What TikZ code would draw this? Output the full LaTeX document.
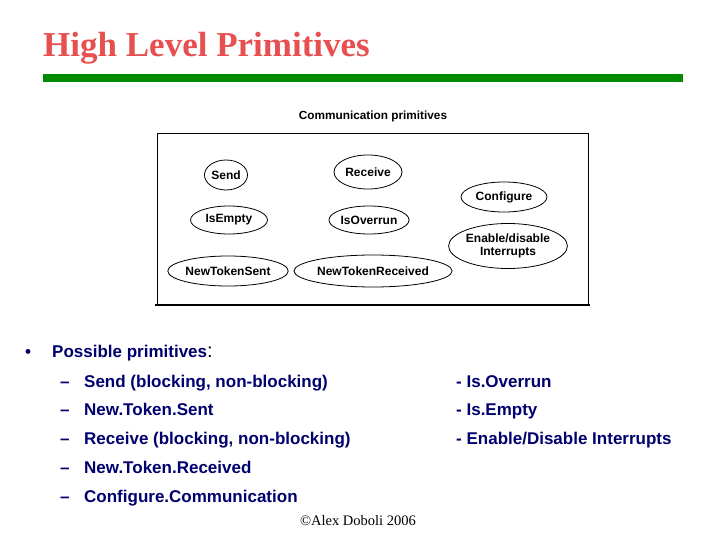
\documentclass[tikz,border=0pt]{standalone}
\usepackage{fontspec}
\setmainfont{Liberation Serif}
\setsansfont{Liberation Sans}
\usetikzlibrary{shapes.geometric}
\definecolor{ttl}{RGB}{230,80,80}
\definecolor{grn}{RGB}{0,140,0}
\definecolor{navy}{RGB}{0,0,110}
\begin{document}
\begin{tikzpicture}[x=1pt,y=-1pt,
  prim/.style={ellipse,draw,line width=0.8pt,inner sep=0pt,font=\sffamily\bfseries\fontsize{12}{12.5}\selectfont,align=center},
  body/.style={anchor=base west,font=\sffamily\bfseries\fontsize{19.5}{22}\selectfont,text=navy,inner sep=0pt}]
\useasboundingbox (0,0) rectangle (720,540);
\node[anchor=base west,text=ttl,font=\fontsize{35}{40}\selectfont\bfseries,inner sep=0pt] (t) at (43,57) {High Level Primitives};
\fill[grn] (43,74) rectangle (683,82);
\node[font=\sffamily\bfseries\fontsize{11.8}{13}\selectfont,inner sep=0pt] (cap) at (373,116) {Communication primitives};
\draw[line width=0.6pt] (157,133) rectangle (588,305);
\draw[line width=1.4pt] (155,305) -- (590,305);
\node[prim,minimum width=43,minimum height=30] (s) at (226,175) {Send};
\node[prim,minimum width=68,minimum height=34] (r) at (368,172) {Receive};
\node[prim,minimum width=86,minimum height=30] (c) at (504,197) {Configure};
\node[prim,minimum width=77,minimum height=28] (ie) at (229,220) {IsEmpty};
\node[prim,minimum width=76,minimum height=28] (io) at (369,220) {IsOverrun};
\node[prim,minimum width=102,minimum height=45] (en) at (508,246) {Enable/disable\\Interrupts};
\node[prim,minimum width=109,minimum height=30] (nts) at (228,271) {NewTokenSent};
\node[prim,minimum width=136,minimum height=32] (ntr) at (373,271) {NewTokenReceived};
\node[body,font=\sffamily\bfseries\fontsize{17}{20}\selectfont] (b) at (25,357) {•};
\node[body,font=\sffamily\bfseries\fontsize{17}{20}\selectfont] (p) at (52,357) {Possible primitives\textcolor{black}{\mdseries\fontsize{20}{22}\selectfont:}};
\foreach \y/\t/\n in {387/Send (blocking{,} non-blocking)/a,415/New.Token.Sent/b2,444/Receive (blocking{,} non-blocking)/c2,473/New.Token.Received/d,502/Configure.Communication/e}{
  \node[body,font=\sffamily\bfseries\fontsize{17}{20}\selectfont] (d\n) at (60,\y) {–};
  \node[body,font=\sffamily\bfseries\fontsize{17}{20}\selectfont] (l\n) at (84,\y) {\t};}
\node[body,font=\sffamily\bfseries\fontsize{17}{20}\selectfont] (r1) at (456,387) {- Is.Overrun};
\node[body,font=\sffamily\bfseries\fontsize{17}{20}\selectfont] (r2) at (456,415) {- Is.Empty};
\node[body,font=\sffamily\bfseries\fontsize{17}{20}\selectfont] (r3) at (456,444) {- Enable/Disable Interrupts};
\node[font=\fontsize{14.5}{16}\selectfont,inner sep=0pt] (cp) at (358,521) {©Alex Doboli 2006};
\end{tikzpicture}
\end{document}
